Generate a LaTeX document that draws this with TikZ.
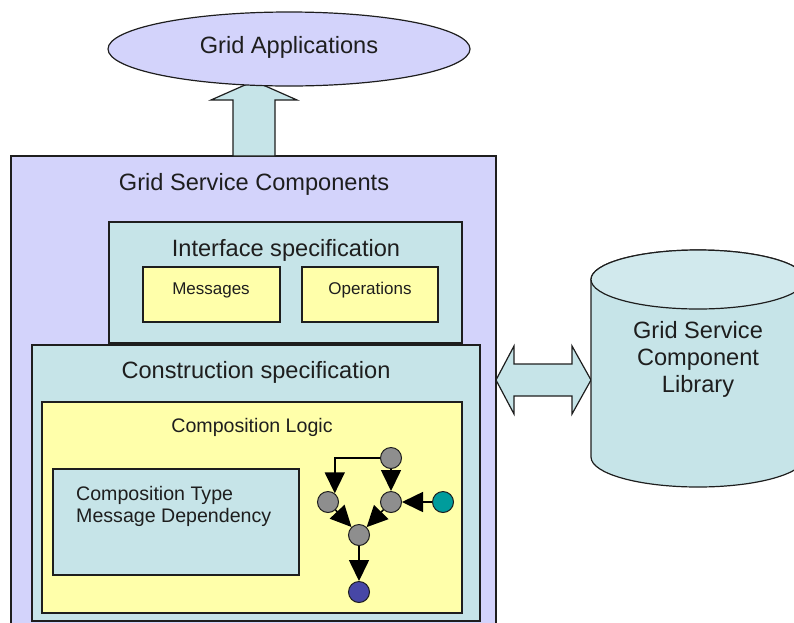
\documentclass[tikz,border=0pt]{standalone}
\usepackage{fontspec}
\setmainfont{Liberation Sans}
\usetikzlibrary{arrows.meta,shapes.geometric}

\definecolor{lav}{HTML}{D3D3FB}
\definecolor{aqua}{HTML}{C6E4E8}
\definecolor{pale}{HTML}{FFFFAA}
\definecolor{knot}{HTML}{8E8E8E}
\definecolor{tealdot}{HTML}{009C9C}
\definecolor{navydot}{HTML}{4747A6}
\definecolor{ink}{HTML}{1E1E1E}

\tikzset{
  outline/.style={draw=ink, line width=1.2pt},
  box/.style={outline, rectangle, inner sep=0pt},
  bigtxt/.style={font=\fontsize{23.6pt}{27pt}\selectfont, text=ink, inner sep=0pt},
  midtxt/.style={font=\fontsize{19.6pt}{22pt}\selectfont, text=ink, inner sep=0pt},
  smalltxt/.style={font=\fontsize{17pt}{20pt}\selectfont, text=ink, inner sep=0pt},
  dot/.style={circle, draw=ink, line width=1pt, minimum size=21pt, inner sep=0pt},
  flow/.style={draw=black, line width=1.6pt, -{Triangle[length=21pt,width=20pt]}},
  blockarrow/.style={outline, fill=aqua, line join=miter},
}

\begin{document}
\begin{tikzpicture}[x=1pt,y=-1pt]
\clip (0,0) rectangle (794,622);

% outer container
\node[box, fill=lav, minimum width=485pt, minimum height=484pt] (gsc) at (253.5,398) {};
\node[bigtxt] (gsctitle) at (254,184) {Grid Service Components};

% upward block arrow towards the applications
\filldraw[blockarrow] (233,156) -- (233,100) -- (211,100) -- (254,81) -- (297,100)
  -- (275,100) -- (275,156) -- cycle;

% applications ellipse
\node[ellipse, outline, fill=lav, minimum width=362pt, minimum height=74pt, inner sep=0pt]
  (apps) at (289,49) {};
\node[bigtxt] (appstxt) at (289,47) {Grid Applications};

% interface specification
\node[box, fill=aqua, minimum width=353pt, minimum height=121pt] (iface) at (285.5,282.5) {};
\node[bigtxt] (ifacetxt) at (286,250) {Interface specification};
\node[box, fill=pale, minimum width=137pt, minimum height=55pt] (msg) at (211.5,294.5) {};
\node[smalltxt] (msgtxt) at (211,290) {Messages};
\node[box, fill=pale, minimum width=136pt, minimum height=55pt] (ops) at (370,294.5) {};
\node[smalltxt] (opstxt) at (370,290) {Operations};

% construction specification
\node[box, fill=aqua, minimum width=448pt, minimum height=276pt] (cons) at (256,483) {};
\node[bigtxt] (constxt) at (256,372) {Construction specification};
\node[box, fill=pale, minimum width=420pt, minimum height=211pt] (logic) at (252,507.5) {};
\node[midtxt] (logictxt) at (252,427) {Composition Logic};
\node[box, fill=aqua, minimum width=246pt, minimum height=106pt] (ctype) at (176,522) {};
\node[midtxt, align=left, anchor=north west] (ctypetxt) at (76,486)
  {Composition Type\\Message Dependency};

% composition graph
\node[dot, fill=knot] (tr) at (391,458) {};
\node[dot, fill=knot] (lm) at (328,502) {};
\node[dot, fill=knot] (rm) at (391,502) {};
\node[dot, fill=tealdot] (src) at (443,502) {};
\node[dot, fill=knot] (mid) at (359,535) {};
\node[dot, fill=navydot] (sink) at (359,592) {};

\draw[flow] (tr.west) -| (lm.52);
\draw[flow] (tr) -- (rm);
\draw[flow] (src) -- (rm);
\draw[flow] (lm) -- (mid);
\draw[flow] (rm) -- (mid);
\draw[flow] (mid) -- (sink);

% double block arrow to the library
\filldraw[blockarrow] (496,380) -- (514,346) -- (514,364) -- (572,364) -- (572,346)
  -- (591,380) -- (572,414) -- (572,396) -- (514,396) -- (514,414) -- cycle;

% component library cylinder
\filldraw[outline, fill=aqua] (591,279.5) -- (591,457)
  arc[start angle=180, end angle=360, x radius=107pt, y radius=30pt]
  -- (805,279.5)
  arc[start angle=0, end angle=180, x radius=107pt, y radius=29.5pt] -- cycle;
\node[ellipse, outline, fill=aqua!80!white, minimum width=214pt, minimum height=59pt, inner sep=0pt]
  (libtop) at (698,279.5) {};
\node[bigtxt, align=center] (libtxt) at (698,359)
  {Grid Service\\Component\\Library};
\end{tikzpicture}
\end{document}
